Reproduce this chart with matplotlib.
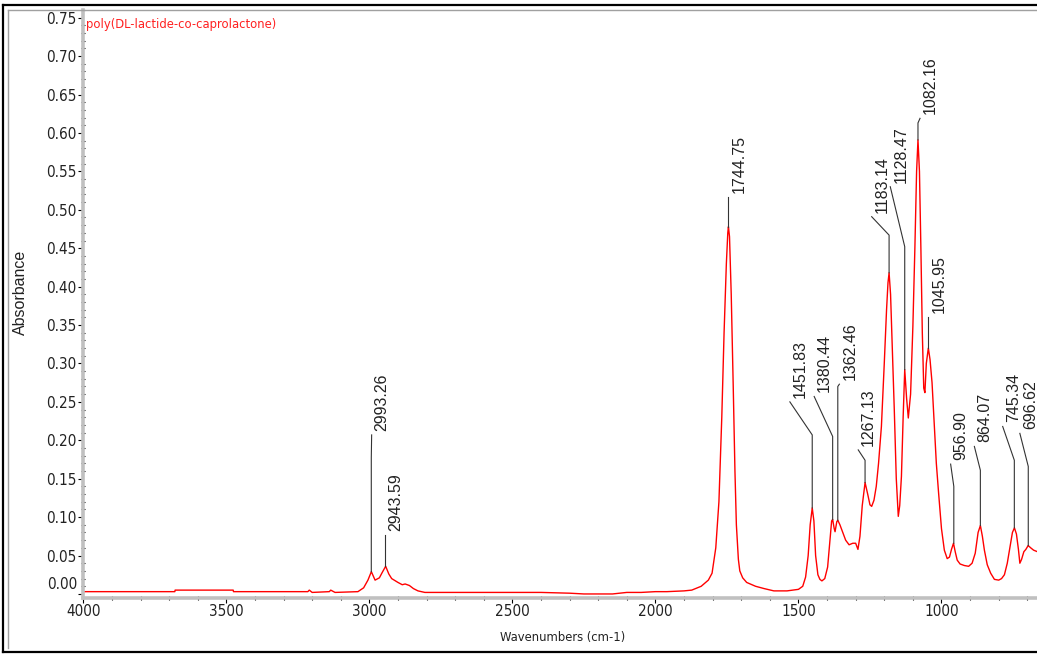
"""
FTIR spectrum of poly(DL-lactide-co-caprolactone), recreated with matplotlib.
Absorbance vs wavenumber with OMNIC-style peak picks.
"""

import numpy as np
import matplotlib
matplotlib.use("Agg")
import matplotlib.pyplot as plt
from matplotlib import font_manager
from matplotlib.font_manager import FontProperties
from matplotlib.lines import Line2D
from matplotlib.ticker import MultipleLocator, FuncFormatter

# Spectrum (wavenumber cm-1, absorbance)
wavenumbers = [
    4000, 3680, 3679, 3476, 3475, 3215, 3210, 3200, 3140, 3135,
    3120, 3040, 3020, 3005, 2993, 2980, 2965, 2955, 2943, 2932,
    2922, 2900, 2885, 2875, 2860, 2846, 2830, 2806, 2600, 2400,
    2300, 2250, 2150, 2100, 2050, 2000, 1960, 1900, 1873, 1840,
    1815, 1802, 1789, 1778, 1768, 1760, 1752, 1747, 1744.75, 1741,
    1735, 1728, 1722, 1717, 1710, 1705, 1695, 1681, 1650, 1620,
    1586, 1540, 1500, 1485, 1475, 1466, 1459, 1451.83, 1446, 1440,
    1432, 1425, 1418, 1408, 1398, 1390, 1384, 1380.44, 1375, 1372,
    1366, 1362.46, 1355, 1345, 1335, 1323, 1310, 1300, 1292, 1285,
    1277, 1267.13, 1258, 1250, 1244, 1236, 1228, 1220, 1210, 1200,
    1192, 1187, 1183.14, 1178, 1172, 1165, 1158, 1151, 1146, 1140,
    1134, 1128.47, 1122, 1116, 1108, 1100, 1093, 1087, 1082.16, 1077,
    1072, 1067, 1062, 1058, 1053, 1045.95, 1040, 1033, 1025, 1018,
    1010, 1000, 990, 980, 972, 965, 958, 952, 945, 935,
    920, 905, 893, 882, 872, 864, 857, 850, 840, 828,
    815, 800, 790, 780, 770, 760, 752, 745, 738, 731,
    726, 720, 712, 705, 697, 688, 678, 665, 650,
]
absorbance = [
    0.003, 0.003, 0.005, 0.005, 0.003, 0.003, 0.005, 0.002, 0.003, 0.005,
    0.002, 0.003, 0.008, 0.018, 0.029, 0.018, 0.021, 0.028, 0.036, 0.026,
    0.020, 0.015, 0.012, 0.013, 0.011, 0.007, 0.004, 0.002, 0.002, 0.002,
    0.001, 0.000, 0.000, 0.002, 0.002, 0.003, 0.003, 0.004, 0.005, 0.010,
    0.018, 0.027, 0.060, 0.120, 0.230, 0.340, 0.430, 0.470, 0.478, 0.465,
    0.390, 0.270, 0.160, 0.090, 0.045, 0.030, 0.021, 0.015, 0.010, 0.007,
    0.004, 0.004, 0.006, 0.010, 0.022, 0.050, 0.090, 0.112, 0.095, 0.050,
    0.025, 0.019, 0.017, 0.020, 0.035, 0.070, 0.095, 0.097, 0.085, 0.081,
    0.094, 0.096, 0.090, 0.080, 0.070, 0.064, 0.066, 0.066, 0.058, 0.075,
    0.115, 0.145, 0.130, 0.116, 0.114, 0.122, 0.140, 0.170, 0.218, 0.300,
    0.370, 0.405, 0.418, 0.390, 0.320, 0.240, 0.150, 0.101, 0.115, 0.153,
    0.230, 0.292, 0.255, 0.229, 0.260, 0.348, 0.450, 0.550, 0.591, 0.550,
    0.450, 0.340, 0.268, 0.262, 0.300, 0.320, 0.305, 0.275, 0.220, 0.170,
    0.131, 0.085, 0.057, 0.046, 0.048, 0.058, 0.066, 0.055, 0.044, 0.039,
    0.037, 0.036, 0.040, 0.053, 0.080, 0.089, 0.075, 0.057, 0.038, 0.027,
    0.019, 0.018, 0.020, 0.025, 0.040, 0.062, 0.080, 0.086, 0.078, 0.058,
    0.040, 0.045, 0.055, 0.058, 0.063, 0.060, 0.057, 0.055, 0.053,
]
assert len(wavenumbers) == len(absorbance)

# Peak picks: label, peak height, top of vertical leader, end of leader
peak_labels = ["2993.26", "2943.59", "1744.75", "1451.83", "1380.44",
               "1362.46", "1267.13", "1183.14", "1128.47", "1082.16",
               "1045.95", "956.90", "864.07", "745.34", "696.62"]
peak_wn = [2993.26, 2943.59, 1744.75, 1451.83, 1380.44, 1362.46, 1267.13,
           1183.14, 1128.47, 1082.16, 1045.95, 956.90, 864.07, 745.34, 696.62]
peak_abs = [0.029, 0.036, 0.478, 0.112, 0.097, 0.096, 0.145,
            0.418, 0.292, 0.591, 0.320, 0.066, 0.089, 0.086, 0.063]
knee_abs = [0.177, 0.077, 0.517, 0.207, 0.205, 0.270, 0.174,
            0.467, 0.452, 0.613, 0.359, 0.140, 0.161, 0.174, 0.166]
label_wn = [2992, 2943.59, 1744.75, 1530, 1445, 1357, 1291,
            1244, 1179, 1075, 1045.95, 968, 885, 786, 726]
label_abs = [0.207, 0.077, 0.517, 0.250, 0.257, 0.273, 0.1875,
             0.491, 0.530, 0.619, 0.361, 0.169, 0.192, 0.218, 0.209]

W, H = 1037, 656

# horizontal text in the original uses a narrow face; look for one
narrow_path = None
for f in font_manager.fontManager.ttflist:
    fn = f.fname.lower()
    if "liberationsansnarrow-regular" in fn or "liberationsans-narrow" in fn:
        narrow_path = f.fname
        break
if narrow_path is None:
    for f in font_manager.fontManager.ttflist:
        if f.fname.lower().endswith("dejavusanscondensed.ttf"):
            narrow_path = f.fname
            break

if narrow_path:
    hfont = FontProperties(fname=narrow_path, size=11.0)
    sfont = FontProperties(fname=narrow_path, size=9.3)
else:
    hfont = FontProperties(family="Liberation Sans", size=10.0)
    sfont = FontProperties(family="Liberation Sans", size=9.5)
vfont = FontProperties(family="Liberation Sans", size=11.5)

fig = plt.figure(figsize=(W / 100, H / 100), dpi=100)
fig.patch.set_facecolor("white")

# axes placed in pixel terms: left 83, top 10, bottom 598, runs past right edge
left_px, right_px, top_px, bot_px = 83.3, 1041.6, 10, 597.8
ax = fig.add_axes([left_px / W, 1 - bot_px / H,
                   (right_px - left_px) / W, (bot_px - top_px) / H])

ax.plot(wavenumbers, absorbance, color="#ff0000", linewidth=1.0)

ax.set_xlim(4000, 650)
ax.set_ylim(-0.005, 0.760)

# peak leaders and labels
for lab, px, py, ky, lx, ly in zip(peak_labels, peak_wn, peak_abs,
                                   knee_abs, label_wn, label_abs):
    ax.plot([px, px, lx], [py, ky, ly], color="#333333", linewidth=0.8)
    ax.annotate(lab, xy=(lx, ly), xytext=(3, 4), textcoords="offset pixels",
                rotation=90, ha="left", va="bottom",
                fontproperties=vfont, color="#222222")

# title inside plot
ax.text(0.003, 0.976, "poly(DL-lactide-co-caprolactone)", transform=ax.transAxes,
        color="#ff2020", fontproperties=sfont, ha="left", va="center")

# spines and ticks
for side in ("top", "right"):
    ax.spines[side].set_visible(False)
for side in ("left", "bottom"):
    ax.spines[side].set_color("#c0c0c0")
    ax.spines[side].set_linewidth(2.6)

ax.xaxis.set_major_locator(MultipleLocator(500))
ax.xaxis.set_minor_locator(MultipleLocator(100))
ax.yaxis.set_major_locator(MultipleLocator(0.05))
ax.yaxis.set_minor_locator(MultipleLocator(0.01))
ax.xaxis.set_major_formatter(FuncFormatter(lambda v, p: f"{v:.0f}"))
ax.yaxis.set_major_formatter(
    FuncFormatter(lambda v, p: "" if abs(v) < 1e-9 else f"{v:.2f}"))

ax.tick_params(which="major", direction="out", length=3.8, width=0.8,
               color="black", labelcolor="#222222", pad=1)
ax.tick_params(which="minor", direction="inout", length=2.6, width=0.8,
               color="black")
for lbl in ax.get_xticklabels() + ax.get_yticklabels():
    lbl.set_fontproperties(hfont)

# the 0.00 label sits a little above its tick in the original
ax.annotate("0.00", xy=(0, 0), xycoords=("axes fraction", "data"),
            xytext=(-6, 9), textcoords="offset pixels", ha="right", va="center",
            fontproperties=hfont, color="#222222")

ax.set_xlabel("Wavenumbers (cm-1)", fontproperties=sfont, color="#222222")
ax.xaxis.set_label_coords(0.5, -0.0667)
ax.xaxis.label.set_va("center")
ax.set_ylabel("Absorbance", fontproperties=vfont, color="#222222")
ax.yaxis.set_label_coords(-0.066, 0.519)
ax.yaxis.label.set_va("center")

# window frame around the plot
def fline(x0, y0, x1, y1, **kw):
    fig.add_artist(Line2D([x0 / W, x1 / W], [1 - y0 / H, 1 - y1 / H],
                          transform=fig.transFigure, **kw))

fline(2.5, 5, 2.5, 652, color="black", linewidth=1.6)
fline(2.5, 5, W + 5, 5, color="black", linewidth=1.6)
fline(2.5, 652, W + 5, 652, color="black", linewidth=1.6)
fline(8, 10, 8, 648, color="#a0a0a0", linewidth=1.0)
fline(8, 10, W + 5, 10, color="#a0a0a0", linewidth=1.0)

fig.savefig("out.png", dpi=100)
